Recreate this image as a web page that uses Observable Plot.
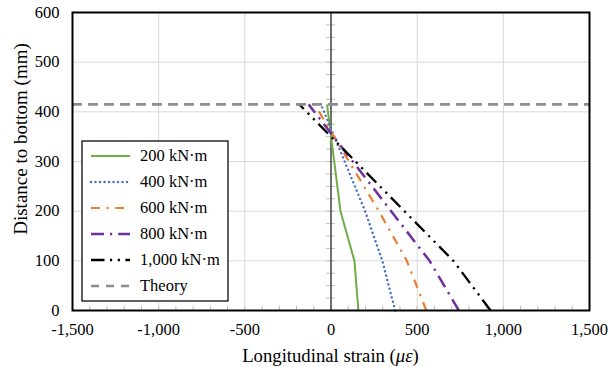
<!DOCTYPE html>
<html>
<head>
<meta charset="utf-8">
<script src="https://cdn.jsdelivr.net/npm/d3@7"></script>
<script src="https://cdn.jsdelivr.net/npm/@observablehq/plot@0.6"></script>
<style>
  html, body { margin: 0; padding: 0; background: #fff; }
  #chart { width: 610px; height: 367px; }
  #chart svg, #chart text { font-family: "Liberation Serif", "Times New Roman", Tinos, serif !important; }
</style>
</head>
<body>
<div id="chart"></div>
<script>
// ---- data ----
const heights = [0, 100, 200, 415];               // distance to bottom (mm)
const s200  = [159, 136, 55, -23];                 // strain (µε)
const s400  = [372, 298, 198, -58];
const s600  = [553, 440, 278, -95];
const s800  = [742, 572, 349, -130];
const s1000 = [926, 710, 426, -184];
const seriesNames = ["200 kN·m", "400 kN·m", "600 kN·m", "800 kN·m", "1,000 kN·m"];
const theoryHeight = 415;
const theoryName = "Theory";
const xTicks = [-1500, -1000, -500, 0, 500, 1000, 1500];
const yTicks = [0, 100, 200, 300, 400, 500, 600];
const xGrid = [-1000, -500, 500, 1000];
const yGrid = [100, 200, 300, 400, 500];
const xMinor = d3.range(-1400, 1500, 100);
const yMinor = d3.range(0, 601, 25);

// ---- styles ----
const styles = [
  {stroke: "#70AD47", strokeWidth: 2,   dash: null,                         cap: "butt"},
  {stroke: "#4472C4", strokeWidth: 2.4, dash: "0.1 4.4",                    cap: "round"},
  {stroke: "#ED7D31", strokeWidth: 2.2, dash: "9 6.5 2.2 6.5",              cap: "butt"},
  {stroke: "#7030A0", strokeWidth: 2.5, dash: "13 6 2.2 6",                 cap: "butt"},
  {stroke: "#000000", strokeWidth: 2.3, dash: "13.5 5.5 2.2 5.5 2.2 5.5",   cap: "butt"}
];
const theoryStyle = {stroke: "#8C8C8C", strokeWidth: 2.8, dash: "10 6"};

const allSeries = [s200, s400, s600, s800, s1000];
const fmt = d => d.toLocaleString("en-US");
const FONT = "Liberation Serif, Times New Roman, serif";

const lineMarks = allSeries.map((vals, i) => {
  const rows = vals.map((v, j) => ({x: v, y: heights[j], s: seriesNames[i]}));
  const st = styles[i];
  return Plot.line(rows, {
    x: "x", y: "y", stroke: st.stroke, strokeWidth: st.strokeWidth,
    strokeDasharray: st.dash || undefined, strokeLinecap: st.cap, strokeLinejoin: "round"
  });
});

const chart = Plot.plot({
  width: 610,
  height: 367,
  marginLeft: 72,
  marginRight: 21,
  marginTop: 12,
  marginBottom: 57,
  style: {fontFamily: FONT, fontSize: "16.5px", color: "black", background: "white"},
  x: {domain: [-1500, 1500]},
  y: {domain: [0, 600]},
  marks: [
    Plot.ruleX(xGrid, {stroke: "#d9d9d9", strokeWidth: 1}),
    Plot.ruleY(yGrid, {stroke: "#d9d9d9", strokeWidth: 1}),
    Plot.ruleX(xMinor, {y1: 0, y2: 9, stroke: "#bfbfbf", strokeWidth: 1}),
    Plot.ruleY(yMinor, {x1: -26, x2: 26, stroke: "#bfbfbf", strokeWidth: 1}),
    Plot.ruleX([0], {stroke: "#404040", strokeWidth: 1.5}),
    ...lineMarks,
    Plot.ruleY([theoryHeight], {stroke: theoryStyle.stroke, strokeWidth: theoryStyle.strokeWidth, strokeDasharray: theoryStyle.dash}),
    Plot.frame({stroke: "black", strokeWidth: 2}),
    Plot.axisX({ticks: xTicks, tickSize: 0, tickPadding: 13, tickFormat: fmt, label: null, fontSize: 16.5}),
    Plot.axisY({ticks: yTicks, tickSize: 0, tickPadding: 13, tickFormat: fmt, label: null, fontSize: 16.5})
  ]
});

document.getElementById("chart").appendChild(chart);

// ---- axis titles ----
const svg = d3.select(chart);
svg.append("text")
  .attr("x", 330.5).attr("y", 362)
  .attr("text-anchor", "middle")
  .attr("font-size", 18.7).attr("fill", "black")
  .call(t => {
    t.append("tspan").text("Longitudinal strain (");
    t.append("tspan").attr("font-style", "italic").text("με");
    t.append("tspan").text(")");
  });
svg.append("text")
  .attr("transform", "translate(20,139) rotate(-90)")
  .attr("text-anchor", "middle").attr("dy", "0.35em")
  .attr("font-size", 19).attr("fill", "black")
  .text("Distance to bottom (mm)");

// ---- legend ----
const lg = svg.append("g").attr("text-anchor", "start");
lg.append("rect").attr("x", 82).attr("y", 141).attr("width", 146).attr("height", 160)
  .attr("fill", "white").attr("stroke", "black").attr("stroke-width", 1.25);
const entries = seriesNames.map((n, i) => ({name: n, st: styles[i]}))
  .concat([{name: theoryName, st: {stroke: theoryStyle.stroke, strokeWidth: 2.5, dash: "8 7", cap: "butt"}}]);
entries.forEach((e, i) => {
  const cy = 156 + i * 26;
  lg.append("line").attr("x1", 91).attr("x2", 130).attr("y1", cy).attr("y2", cy)
    .attr("stroke", e.st.stroke).attr("stroke-width", e.st.strokeWidth)
    .attr("stroke-dasharray", e.st.dash).attr("stroke-linecap", e.st.cap || "butt");
  lg.append("text").attr("x", 140).attr("y", cy).attr("dy", "0.33em")
    .attr("text-anchor", "start")
    .attr("font-size", 16.5).attr("fill", "black")
    .text(e.name);
});
</script>
</body>
</html>
